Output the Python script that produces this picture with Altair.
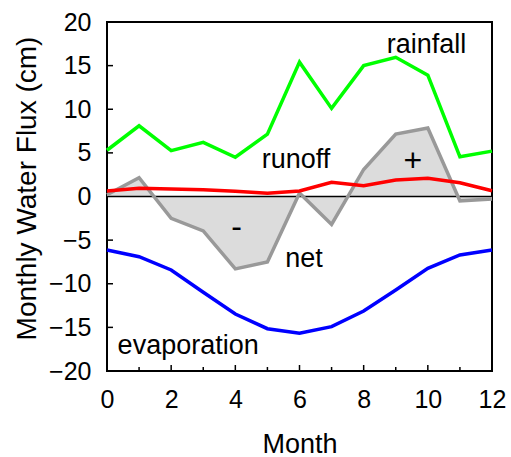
import altair as alt
import pandas as pd

months = list(range(13))
rainfall = [5.3, 8.1, 5.25, 6.2, 4.5, 7.15, 15.4, 10.1, 15.0, 15.95, 13.9, 4.55, 5.2]
runoff = [0.63, 0.94, 0.86, 0.78, 0.6, 0.37, 0.63, 1.63, 1.24, 1.89, 2.08, 1.58, 0.66]
net = [0.2, 2.15, -2.5, -3.95, -8.3, -7.5, 0.4, -3.2, 3.1, 7.15, 7.85, -0.5, -0.3]
evaporation = [-6.13, -6.9, -8.42, -10.98, -13.47, -15.15, -15.68, -14.92, -13.12, -10.72, -8.23, -6.7, -6.13]
x_ticks_major = [0, 2, 4, 6, 8, 10, 12]
x_ticks_minor = [1, 3, 5, 7, 9, 11]
y_ticks = [-15, -10, -5, 5, 10, 15]

FONT = "Liberation Sans"
W, H = 385, 349

df = pd.DataFrame({"month": months, "rainfall": rainfall, "runoff": runoff,
                   "net": net, "evaporation": evaporation})
one = pd.DataFrame({"k": [0]})

xscale = alt.Scale(domain=[0, 12], nice=False, zero=False)
yscale = alt.Scale(domain=[-20, 20], nice=False)
xaxis = alt.Axis(values=x_ticks_major, ticks=False, tickSize=0, domain=False, grid=False,
                 labelFont=FONT, labelFontSize=25, labelColor="black", labelBaseline="alphabetic",
                 labelPadding=36, labelFlush=False,
                 titleFont=FONT, titleFontSize=27, titleFontWeight="normal", titleColor="black",
                 titleBaseline="alphabetic", titleY=81, titleX=W / 2)
yaxis = alt.Axis(values=[-20, -15, -10, -5, 0, 5, 10, 15, 20], ticks=False, tickSize=0, domain=False,
                 grid=False, labelFont=FONT, labelFontSize=25, labelColor="black", labelPadding=16,
                 labelFlush=False,
                 titleFont=FONT, titleFontSize=28, titleFontWeight="normal", titleColor="black",
                 titleBaseline="alphabetic", titleAngle=-90, titleX=-72, titleY=166, titleAlign="center")


def X(field):
    return alt.X(f"{field}:Q", scale=xscale, axis=xaxis, title="Month")


def Y(field):
    return alt.Y(f"{field}:Q", scale=yscale, axis=yaxis, title="Monthly Water Flux (cm)")


base = alt.Chart(df)

area = base.mark_area(color="#dcdcdc", opacity=1).encode(
    x=X("month"), y=Y("net"), y2=alt.Y2(datum=0))
zero = alt.Chart(one).mark_rule(color="black", strokeWidth=1.5).encode(
    y=alt.Y(datum=0, scale=yscale, axis=yaxis, title="Monthly Water Flux (cm)"))
net_line = base.mark_line(color="#999999", strokeWidth=3.5).encode(x=X("month"), y=Y("net"))
rain_line = base.mark_line(color="#00ff00", strokeWidth=3.5).encode(x=X("month"), y=Y("rainfall"))
run_line = base.mark_line(color="#ff0000", strokeWidth=3.5).encode(x=X("month"), y=Y("runoff"))
evap_line = base.mark_line(color="#0000ff", strokeWidth=3.5).encode(x=X("month"), y=Y("evaporation"))

xmaj = alt.Chart(pd.DataFrame({"t": x_ticks_major})).mark_rule(color="black", strokeWidth=1.5).encode(
    x=X("t"), y=alt.value(H), y2=alt.value(H - 6))
xmin = alt.Chart(pd.DataFrame({"t": x_ticks_minor})).mark_rule(color="black", strokeWidth=1.5).encode(
    x=X("t"), y=alt.value(H), y2=alt.value(H - 4))
ytk = alt.Chart(pd.DataFrame({"t": y_ticks})).mark_rule(color="black", strokeWidth=1.5).encode(
    y=Y("t"), x=alt.value(0), x2=alt.value(6))


def label(txt, xv, yv, baseline="alphabetic", size=27):
    return alt.Chart(one).mark_text(font=FONT, fontSize=size, fontWeight="normal", color="black",
                                    align="center", baseline=baseline).encode(
        x=alt.X(datum=xv, scale=xscale, axis=xaxis, title="Month"),
        y=alt.Y(datum=yv, scale=yscale, axis=yaxis, title="Monthly Water Flux (cm)"),
        text=alt.value(txt))


labels = [
    label("rainfall", 9.96, 16.48),
    label("runoff", 5.89, 3.3),
    label("+", 9.53, 4.07, baseline="middle", size=32),
    label("-", 4.04, -3.5, baseline="middle", size=32),
    label("net", 6.14, -8.04),
    label("evaporation", 2.53, -18.05),
]

chart = alt.layer(area, zero, net_line, rain_line, run_line, evap_line, xmaj, xmin, ytk, *labels).properties(
    width=W, height=H,
    autosize=alt.AutoSizeParams(type="none"),
    padding={"left": 107, "top": 22, "right": 19, "bottom": 86},
    background="white",
).configure_view(stroke="black", strokeWidth=2)

chart.save("out.html", embed_options={"renderer": "svg", "actions": False})
